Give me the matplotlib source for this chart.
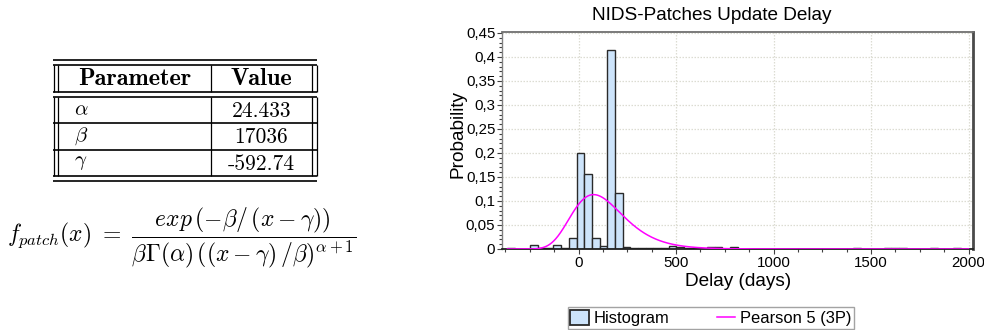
import math
import numpy as np
import matplotlib
matplotlib.use("Agg")
import matplotlib.pyplot as plt
from matplotlib.patches import Patch
from matplotlib.lines import Line2D
from matplotlib.ticker import MultipleLocator

# ---- data ----
# fitted Pearson 5 (3P) parameters (from the table)
param_names = [r"$\alpha$", r"$\beta$", r"$\gamma$"]
param_labels = ["24.433", "17036", "-592.74"]
alpha_p = 24.433
beta_p = 17036.0
gamma_p = -592.74

# histogram: first bin start, bin width (days), probability per bin
hist_start = -365.0
hist_width = 39.4
hist_prob = [0.003, 0.0, 0.0, 0.008, 0.002, 0.003, 0.008, 0.002, 0.022, 0.201,
             0.156, 0.023, 0.006, 0.414, 0.116, 0.004, 0.003, 0.002, 0.003, 0.002,
             0.003, 0.006, 0.004, 0.002, 0.002, 0.001, 0.005, 0.004, 0.0, 0.004,
             0.0, 0.0, 0.0, 0.0, 0.0, 0.0, 0.0, 0.0, 0.0, 0.0,
             0.0, 0.0, 0.0, 0.0, 0.0, 0.002, 0.0, 0.0, 0.0, 0.002,
             0.002, 0.002, 0.0, 0.0, 0.0, 0.002, 0.0, 0.0, 0.002]
curve_range = (-365.0, 2000.0)

x_ticks = [0, 500, 1000, 1500, 2000]
x_tick_labels = ["0", "500", "1000", "1500", "2000"]
y_ticks = [0, 0.05, 0.1, 0.15, 0.2, 0.25, 0.3, 0.35, 0.4, 0.45]
y_tick_labels = ["0", "0,05", "0,1", "0,15", "0,2", "0,25", "0,3", "0,35", "0,4", "0,45"]
legend_labels = ["Histogram", "Pearson 5 (3P)"]

plt.rcParams["mathtext.fontset"] = "cm"
plt.rcParams["font.family"] = ["Liberation Sans", "DejaVu Sans"]

W, H = 984, 330
fig = plt.figure(figsize=(W / 100, H / 100), dpi=100)

# ---- left part: table + formula, drawn in pixel coordinates ----
lay = fig.add_axes([0, 0, 1, 1])
lay.set_xlim(0, W)
lay.set_ylim(H, 0)
lay.axis("off")

tx0, tx1 = 53.3, 317.3          # outer extent of horizontal rules
vl = [54.0, 58.3]               # left double vertical
vr = [311.7, 316.7]             # right double vertical
vmid = 211.0                    # column divider
y_top = 59.7
gap = 5.3
head_h = 26.5
row_h = 26.4
hlw, vlw = 1.2, 0.9

y_box = y_top + gap
y_head_end = y_box + head_h
y_rows = y_head_end + gap
row_edges = [y_rows + i * row_h for i in range(len(param_names) + 1)]
y_bottom = row_edges[-1] + gap

for y in [y_top, y_box, y_head_end, y_rows] + row_edges[1:] + [y_bottom]:
    lay.plot([tx0, tx1], [y, y], color="black", lw=hlw, solid_capstyle="butt")
for (ya, yb) in [(y_box, y_head_end), (y_rows, row_edges[-1])]:
    for x in vl + vr + [vmid]:
        lay.plot([x, x], [ya, yb], color="black", lw=vlw, solid_capstyle="butt")

cx1 = (vl[1] + vmid) / 2
cx2 = (vmid + vr[0]) / 2
lay.text(cx1, (y_box + y_head_end) / 2 + 1, "Parameter", family="cmb10",
         fontsize=17.5, ha="center", va="center")
lay.text(cx2, (y_box + y_head_end) / 2 + 1, "Value", family="cmb10",
         fontsize=17.5, ha="center", va="center")
for i in range(len(param_names)):
    yc = (row_edges[i] + row_edges[i + 1]) / 2
    lay.text(74, yc, param_names[i], fontsize=15, ha="left", va="center")
    lay.text(cx2, yc + 1, param_labels[i], family="cmr10", fontsize=15.5,
             ha="center", va="center")

formula = (r"$f_{patch}(x)\ =\ \dfrac{exp\,(-\beta/\,(x-\gamma))}"
           r"{\beta\Gamma(\alpha)\,((x-\gamma)\,/\beta)^{\alpha+1}}$")
lay.text(7, 238, formula, fontsize=17, ha="left", va="center")

# ---- right part: histogram + fitted curve ----
ax_l, ax_r, ax_t, ax_b = 502.3, 973.0, 32.0, 249.0
ax = fig.add_axes([ax_l / W, 1 - ax_b / H, (ax_r - ax_l) / W, (ax_b - ax_t) / H])

lefts = hist_start + hist_width * np.arange(len(hist_prob))
ax.bar(lefts, hist_prob, width=hist_width, align="edge", color="#cde4fb",
       edgecolor="#2a2a2a", linewidth=1.0, zorder=2)

xs = np.linspace(curve_range[0], curve_range[1], 800)
z = (xs - gamma_p) / beta_p
logpdf = -1.0 / z - math.log(beta_p) - math.lgamma(alpha_p) - (alpha_p + 1) * np.log(z)
ax.plot(xs, np.exp(logpdf) * hist_width, color="#ff00ff", lw=1.1, zorder=3)

ax.set_xlim(-391, 2023)
ax.set_ylim(0, 0.452)
ax.set_xticks(x_ticks, x_tick_labels)
ax.set_yticks(y_ticks, y_tick_labels)
ax.xaxis.set_minor_locator(MultipleLocator(125))
ax.yaxis.set_minor_locator(MultipleLocator(0.01))
ax.set_axisbelow(True)
ax.grid(True, which="major", linestyle=(0, (1.2, 1.2)), color="#dcdcd2", lw=0.9)
ax.tick_params(which="both", direction="out", color="#404040", width=0.8)
ax.tick_params(which="major", length=3.5, labelsize=10.8, pad=1.5)
ax.tick_params(which="minor", length=2.5)

ax.spines["left"].set_color("#808080")
ax.spines["left"].set_linewidth(1.0)
ax.spines["bottom"].set_color("#202020")
ax.spines["bottom"].set_linewidth(1.3)
ax.spines["top"].set_color("#707070")
ax.spines["top"].set_linewidth(1.3)
ax.spines["right"].set_color("#4a4a4a")
ax.spines["right"].set_linewidth(2.0)

fig.text(711.5 / W, 1 - 16 / H, "NIDS-Patches Update Delay", fontsize=13.7,
         ha="center", va="center")
ax.set_xlabel("Delay (days)", fontsize=13.7)
ax.xaxis.label.set_va("center")
ax.xaxis.set_label_coords(0.5, (ax_b - 282) / (ax_b - ax_t))
ax.set_ylabel("Probability", fontsize=13.7)
ax.yaxis.label.set_va("center")
ax.yaxis.set_label_coords((458 - ax_l) / (ax_r - ax_l), (ax_b - 134) / (ax_b - ax_t))

handles = [Patch(facecolor="#cde4fb", edgecolor="#2a2a2a", linewidth=1.3),
           Line2D([], [], color="#ff00ff", lw=1.1)]
fig.legend(handles, legend_labels, loc="center", bbox_to_anchor=(711 / W, 1 - 318 / H),
           ncol=2, frameon=True, fancybox=False, edgecolor="#8c8c8c", fontsize=11.9,
           handlelength=1.1, handleheight=1.05, handletextpad=0.3, columnspacing=2.9,
           borderpad=0.15, borderaxespad=0)

fig.savefig("out.png", dpi=100)
